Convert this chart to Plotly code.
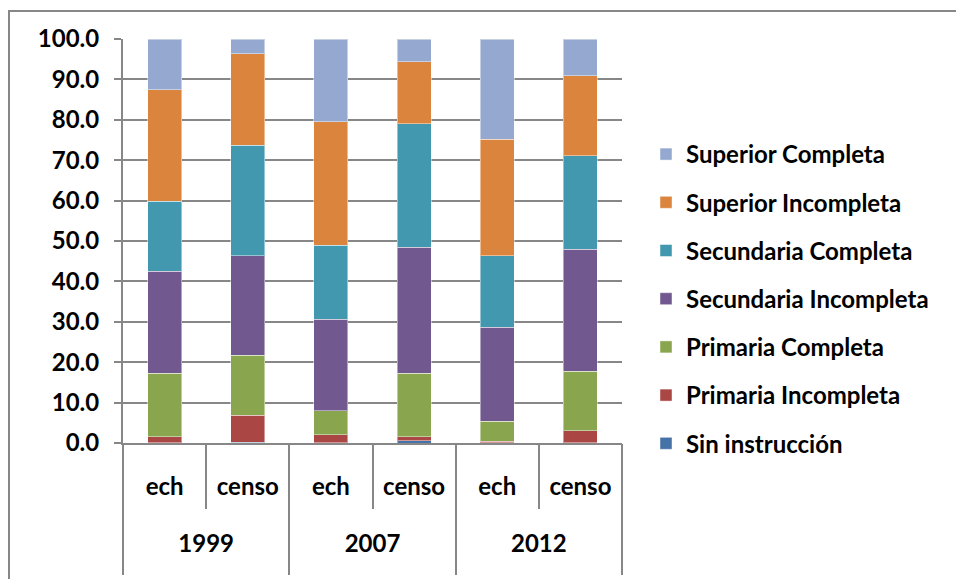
import plotly.graph_objects as go

# Education level shares (%) by year and source
years = ["1999", "2007", "2012"]
sources = ["ech", "censo", "ech", "censo", "ech", "censo"]

sin_instruccion = [0.1, 0.2, 0.1, 0.5, 0.1, 0.1]
primaria_incompleta = [1.4, 6.7, 2.0, 1.0, 0.3, 2.9]
primaria_completa = [15.8, 14.8, 5.9, 15.8, 5.0, 14.8]
secundaria_incompleta = [25.2, 24.7, 22.6, 31.1, 23.2, 30.1]
secundaria_completa = [17.3, 27.3, 18.3, 30.6, 17.8, 23.2]
superior_incompleta = [27.6, 22.6, 30.6, 15.4, 28.8, 19.8]
superior_completa = [12.6, 3.7, 20.5, 5.6, 24.8, 9.1]

series = [
    ("Sin instrucción", sin_instruccion, "#4572A7"),
    ("Primaria Incompleta", primaria_incompleta, "#AA4643"),
    ("Primaria Completa", primaria_completa, "#89A54E"),
    ("Secundaria Incompleta", secundaria_incompleta, "#71588F"),
    ("Secundaria Completa", secundaria_completa, "#4198AF"),
    ("Superior Incompleta", superior_incompleta, "#DB843D"),
    ("Superior Completa", superior_completa, "#95A9D0"),
]

FONT = "Lato"
GRAY = "#878787"
SIZE = 24

# bar slots: one per (year, source); two sources per year
n_src = len(sources)
per_year = n_src // len(years)
slots = list(range(n_src))
x_range = [-0.5, n_src - 0.5]
inner_bounds = [y * per_year + k - 0.5 for y in range(len(years)) for k in range(1, per_year)]
group_bounds = [y * per_year - 0.5 for y in range(len(years) + 1)]
year_centers = [y * per_year + (per_year - 1) / 2 for y in range(len(years))]

fig = go.Figure()
for i, (name, vals, color) in enumerate(series):
    fig.add_trace(go.Bar(
        x=slots,
        y=vals,
        name=name,
        legendgroup=name,
        legendrank=len(series) - i,
        marker=dict(color=color, line=dict(color="rgba(255,255,255,0.45)", width=1)),
    ))

# empty helper trace so the year axis gets drawn
fig.add_trace(go.Scatter(
    x=year_centers, y=[0] * len(year_centers), xaxis="x2", yaxis="y",
    mode="markers", marker=dict(opacity=0), showlegend=False, hoverinfo="skip",
))

W, H = 956, 579
L, R, T, B = 123, 334, 39, 136
pw, ph = W - L - R, H - T - B


def px_x(px):
    return (px - L) / pw


def px_y(py):
    return (H - B - py) / ph


tick_font = dict(family=FONT, size=SIZE, color="black", weight=700)

fig.update_layout(
    width=W, height=H,
    margin=dict(l=L, r=R, t=T, b=B),
    barmode="stack",
    bargap=0.59,
    plot_bgcolor="white",
    paper_bgcolor="white",
    font=dict(family=FONT, size=SIZE, color="black", weight=700),
    legend=dict(
        x=px_x(646), y=px_y(132), xanchor="left", yanchor="top",
        traceorder="grouped",
        tracegroupgap=14,
        font=tick_font,
        bgcolor="rgba(0,0,0,0)",
    ),
    # source row: labels under each bar, short separators between sources
    xaxis=dict(
        range=x_range, autorange=False,
        showgrid=False, zeroline=False,
        showline=True, linecolor=GRAY, linewidth=2,
        tickmode="array", tickvals=slots, ticktext=sources,
        ticks="", ticklabelstandoff=21,
        minor=dict(tickmode="array", tickvals=inner_bounds, ticks="outside",
                   ticklen=64, tickwidth=2, tickcolor=GRAY, showgrid=False),
        tickfont=tick_font,
    ),
    # year row: labels under each pair, long separators between years
    xaxis2=dict(
        overlaying="x", anchor="y", side="bottom",
        range=x_range, autorange=False,
        showgrid=False, zeroline=False, showline=False,
        tickmode="array", tickvals=year_centers, ticktext=years,
        ticks="", ticklabelstandoff=84,
        minor=dict(tickmode="array", tickvals=group_bounds, ticks="outside",
                   ticklen=131, tickwidth=2, tickcolor=GRAY, showgrid=False),
        tickfont=tick_font,
    ),
    yaxis=dict(
        range=[0, 100], dtick=10, tickformat=".1f",
        showgrid=True, gridcolor=GRAY, gridwidth=2,
        showline=True, linecolor=GRAY, linewidth=2,
        ticks="outside", ticklen=7, tickcolor=GRAY, tickwidth=2,
        ticklabelstandoff=10,
        zeroline=False,
        tickfont=tick_font,
    ),
    shapes=[dict(
        type="rect", xref="paper", yref="paper",
        x0=px_x(9), x1=px_x(1000), y0=px_y(620), y1=px_y(11),
        line=dict(color=GRAY, width=2), fillcolor="rgba(0,0,0,0)", layer="below",
    )],
)

fig.write_html("out.html")
